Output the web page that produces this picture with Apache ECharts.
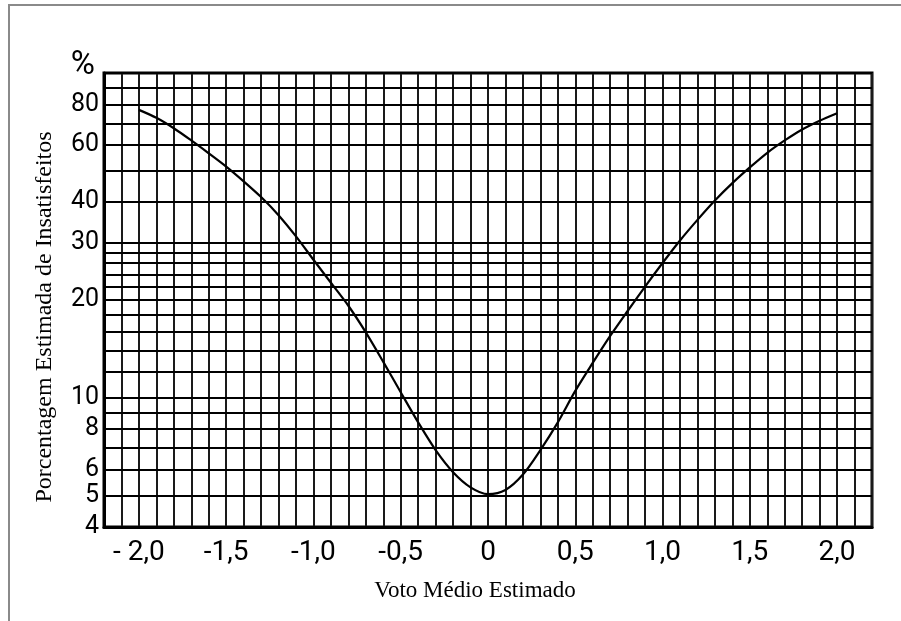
<!DOCTYPE html>
<html><head><meta charset="utf-8">
<script src="https://cdn.jsdelivr.net/npm/echarts@6/dist/echarts.min.js"></script>
<style>
html,body{margin:0;padding:0;background:#fff;}
#wrap{position:relative;width:901px;height:621px;overflow:hidden;background:#fff;}
#chart{position:absolute;left:0;top:0;width:901px;height:621px;}
#frame{position:absolute;left:8px;top:4px;width:1000px;height:1000px;border-top:2px solid #8a8a8a;border-left:2px solid #8a8a8a;pointer-events:none;}
</style></head>
<body><div id="wrap"><div id="chart"></div><div id="frame"></div></div>
<script>
// Estimated mean vote (x) and estimated percentage dissatisfied (y)
const pmv = [-2.0,-1.9,-1.8,-1.7,-1.6,-1.5,-1.4,-1.3,-1.2,-1.1,-1.0,-0.9,-0.8,-0.7,-0.6,-0.5,-0.4,-0.3,-0.2,-0.1,
             0.0,0.1,0.2,0.3,0.4,0.5,0.6,0.7,0.8,0.9,1.0,1.1,1.2,1.3,1.4,1.5,1.6,1.7,1.8,1.9,2.0];
const ppd = [77,72.8,67.6,62,56.6,51.5,46.4,41.5,36.5,31.4,26.6,22.6,19.2,15.9,12.9,10.4,8.4,6.9,5.9,5.3,
             5.05,5.2,5.8,6.9,8.4,10.5,12.8,15.5,18.5,22,26,30.5,35.3,40.5,45.8,51.2,56.8,62,67,71.3,75.2];
const xTickValues = [-2,-1.5,-1,-0.5,0,0.5,1,1.5,2];
const xTickLabels = ['- 2,0','-1,5','-1,0','-0,5','0','0,5','1,0','1,5','2,0'];
const yGridValues = [4,5,6,7,8,9,10,12,14,16,18,20,22,24,26,28,30,40,50,60,70,80,90,100];
const yTickValues = [4,5,6,8,10,20,30,40,60,80];
const xTitle = 'Voto Médio Estimado';
const yTitle = 'Porcentagem Estimada de Insatisfeitos';

const numFont = "Roboto,'Open Sans',sans-serif";
const serif = "'Liberation Serif','DejaVu Serif',serif";

const chart = echarts.init(document.getElementById('chart'), null, {renderer:'canvas'});
const curve = pmv.map((x,i)=>[x, ppd[i]]);

chart.setOption({
  animation:false,
  backgroundColor:'#fff',
  grid:{left:104,right:29,top:73,bottom:94,show:true,borderColor:'#000',borderWidth:3,backgroundColor:'transparent'},
  xAxis:{
    type:'value',min:-2.2,max:2.2,interval:0.1,
    axisLine:{show:true,onZero:false,lineStyle:{color:'#000',width:3}},
    axisTick:{show:false},
    splitLine:{show:true,lineStyle:{color:'#1a1a1a',width:2}},
    axisLabel:{
      show:true,margin:12,color:'#000',fontFamily:numFont,fontSize:28,
      formatter:function(v){
        const k = xTickValues.findIndex(t=>Math.abs(t-v)<1e-6);
        return k>=0 ? xTickLabels[k] : '';
      }
    },
    name:xTitle,nameLocation:'middle',nameGap:52,
    nameTextStyle:{fontFamily:serif,fontSize:23,color:'#000',padding:[0,26,0,0]}
  },
  yAxis:[{
    type:'log',logBase:10,min:4,max:100,
    axisLine:{show:true,onZero:false,lineStyle:{color:'#000',width:3}},
    axisTick:{show:false},axisLabel:{show:false},splitLine:{show:false},
    name:'%',nameLocation:'end',nameGap:-9,
    nameTextStyle:{fontFamily:numFont,fontSize:33,color:'#000',align:'right',padding:[0,9,0,0]}
  },{
    type:'log',logBase:10,min:4,max:100,position:'left',
    axisLine:{show:false,onZero:false},axisTick:{show:false},axisLabel:{show:false},splitLine:{show:false},
    name:yTitle,nameLocation:'middle',nameGap:47,nameRotate:90,
    nameTextStyle:{fontFamily:serif,fontSize:24,color:'#000',padding:[0,34,0,0]}
  }],
  series:[{
    type:'line',data:curve,smooth:0.3,showSymbol:false,symbol:'none',
    lineStyle:{color:'#000',width:2.2},z:5,
    markLine:{
      silent:true,symbol:['none','none'],animation:false,
      lineStyle:{color:'#000',width:2.2,type:'solid'},
      label:{show:true,position:'start',distance:5,color:'#000',fontFamily:numFont,fontSize:25,
        formatter:function(p){return String(p.value);}},
      data:yGridValues.map(v=>({yAxis:v,label:{show:yTickValues.indexOf(v)>=0}}))
    }
  }]
});
</script></body></html>
